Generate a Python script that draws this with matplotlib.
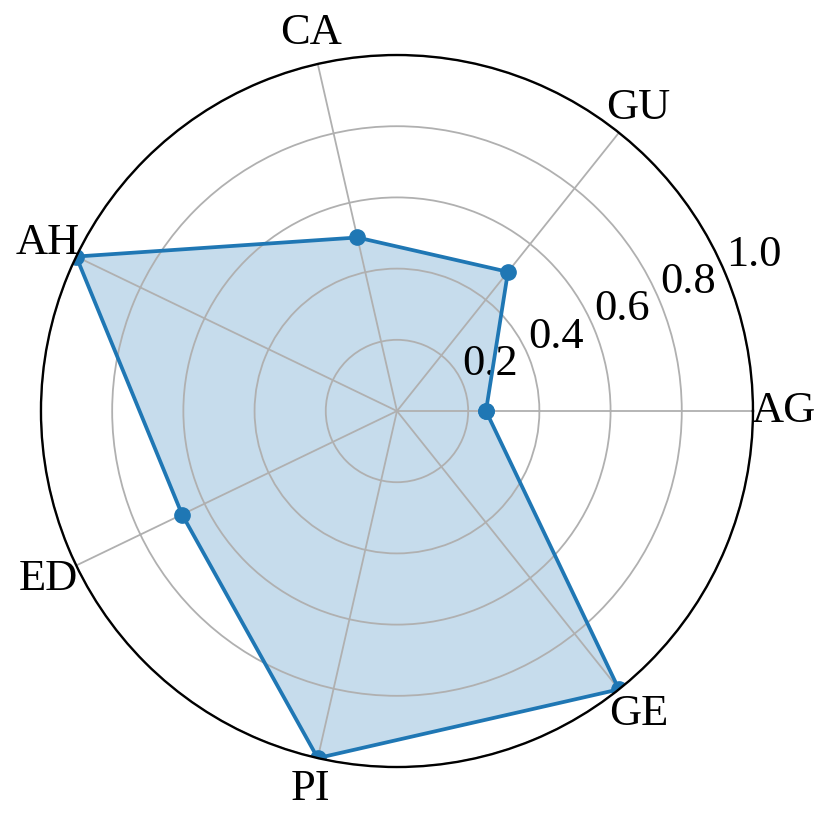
import matplotlib
matplotlib.use("Agg")
import matplotlib.pyplot as plt
import numpy as np

categories = ["AG", "GU", "CA", "AH", "ED", "PI", "GE"]
values = [0.25, 0.5, 0.5, 1.0, 0.67, 1.0, 1.0]
r_ticks = [0.2, 0.4, 0.6, 0.8, 1.0]
r_tick_labels = ["0.2", "0.4", "0.6", "0.8", "1.0"]

LINE_COLOR = "#1f77b4"
FONT_SIZE = 32

plt.rcParams["font.family"] = ["Liberation Serif", "DejaVu Serif"]

angles = np.linspace(0, 2 * np.pi, len(categories), endpoint=False)
closed_angles = np.concatenate([angles, angles[:1]])
closed_values = values + values[:1]

fig = plt.figure(figsize=(8.31, 8.27), dpi=100)
ax = fig.add_axes([0.0493, 0.0725, 0.8568, 0.861], polar=True)

ax.plot(closed_angles, closed_values, color=LINE_COLOR, linewidth=2.7,
        marker="o", markersize=11)
ax.fill(closed_angles, closed_values, color=LINE_COLOR, alpha=0.25)

ax.set_ylim(0, 1.0)
ax.set_xticks(angles)
ax.set_xticklabels(categories, fontsize=FONT_SIZE)
ax.tick_params(axis="x", pad=12)
ax.set_yticks(r_ticks)
ax.set_yticklabels(r_tick_labels, fontsize=FONT_SIZE)
ax.grid(True, color="#b0b0b0", linewidth=1.3)
ax.spines["polar"].set_linewidth(1.7)

fig.savefig("out.png", dpi=100)
